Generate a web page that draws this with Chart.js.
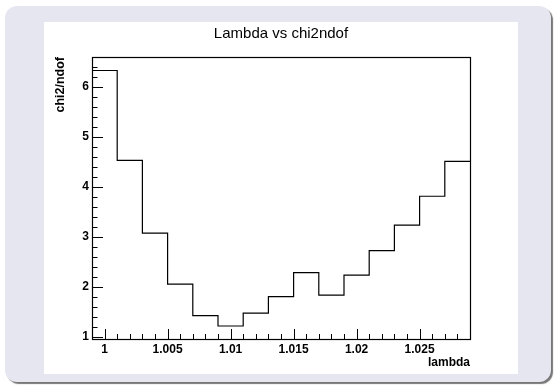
<!DOCTYPE html>
<html>
<head>
<meta charset="utf-8">
<script src="https://cdn.jsdelivr.net/npm/chart.js@4"></script>
<style>
    body { margin: 0; background: #ffffff; }
    #frame {
        position: absolute; left: 5px; top: 6px; width: 546px; height: 376px;
        background: #e6e6f0; border-radius: 12px;
        box-shadow: 2px 2px 1px #777777;
    }
    #pad {
        position: absolute; left: 39px; top: 16px; width: 474px; height: 352px;
        background: #ffffff;
    }
</style>
</head>
<body>
<div id="frame">
    <div id="pad"><canvas id="histChart" width="474" height="352"></canvas></div>
</div>
<script>
// Lower bin edges for lambda, plus the upper edge of the last bin
const lambdaEdges = [0.999, 1.001, 1.003, 1.005, 1.007, 1.009, 1.011, 1.013,
                     1.015, 1.017, 1.019, 1.021, 1.023, 1.025, 1.027, 1.029];
// chi2/ndof per bin
const chi2ndof = [6.33, 4.53, 3.07, 2.05, 1.42, 1.21, 1.47, 1.80,
                  2.28, 1.83, 2.23, 2.72, 3.23, 3.81, 4.51];
// Axis tick labels
const xTicks = [1, 1.005, 1.01, 1.015, 1.02, 1.025];
const yTicks = [1, 2, 3, 4, 5, 6];

// Histogram outline: one point per bin edge, the last one repeats the final bin
const histPoints = lambdaEdges.map((edge, i) => ({
    x: edge,
    y: chi2ndof[Math.min(i, chi2ndof.length - 1)]
}));

Chart.defaults.font.family = '"Liberation Sans", Arial, sans-serif';
Chart.defaults.color = '#000000';

// Draws the box around the plot area and inward pointing ticks
const frameTicks = {
    id: 'frameTicks',
    afterDraw(chart) {
        const ctx = chart.ctx;
        const area = chart.chartArea;
        const xs = chart.scales.x;
        const ys = chart.scales.y;
        ctx.save();
        ctx.strokeStyle = '#000000';
        ctx.lineWidth = 1;
        ctx.beginPath();
        // x axis: major every 0.005, minor every 0.001
        for (let k = 0; k <= 30; k++) {
            const v = 0.999 + k * 0.001;
            const px = Math.round(xs.getPixelForValue(v)) + 0.5;
            const major = xTicks.some(t => Math.abs(t - v) < 1e-6);
            ctx.moveTo(px, area.bottom);
            ctx.lineTo(px, area.bottom - (major ? 10 : 5));
        }
        // y axis: major every 1, minor every 0.2
        for (let k = 0; k <= 28; k++) {
            const v = 1 + k * 0.2;
            const py = Math.round(ys.getPixelForValue(v)) + 0.5;
            const major = yTicks.some(t => Math.abs(t - v) < 1e-6);
            ctx.moveTo(area.left, py);
            ctx.lineTo(area.left + (major ? 11 : 5.5), py);
        }
        ctx.stroke();
        ctx.lineWidth = 1.2;
        ctx.strokeRect(Math.round(area.left) + 0.5, Math.round(area.top) + 0.5,
                       Math.round(area.right - area.left), Math.round(area.bottom - area.top));
        ctx.restore();
    }
};

const ctx = document.getElementById('histChart').getContext('2d');
new Chart(ctx, {
    type: 'line',
    data: {
        datasets: [{
            data: histPoints,
            stepped: true,
            borderColor: '#000000',
            borderWidth: 1.2,
            pointRadius: 0,
            fill: false
        }]
    },
    options: {
        responsive: false,
        animation: false,
        devicePixelRatio: 1,
        layout: { padding: 0 },
        plugins: {
            legend: { display: false },
            tooltip: { enabled: false },
            title: {
                display: true,
                text: 'Lambda vs chi2ndof',
                font: { size: 15, weight: 'normal' },
                padding: { top: 3, bottom: 14 }
            }
        },
        scales: {
            x: {
                type: 'linear',
                min: 0.999,
                max: 1.029,
                grid: { display: false, drawTicks: false },
                border: { display: false },
                afterBuildTicks: scale => { scale.ticks = xTicks.map(v => ({ value: v })); },
                afterFit: scale => { scale.height = 35; },
                ticks: {
                    padding: 3,
                    maxRotation: 0,
                    font: { size: 12, weight: 'bold' },
                    callback: value => String(value)
                },
                title: {
                    display: true,
                    text: 'lambda',
                    align: 'end',
                    font: { size: 12, weight: 'bold' },
                    padding: { top: 0, bottom: 4 }
                }
            },
            y: {
                type: 'linear',
                min: 0.95,
                max: 6.6,
                grid: { display: false, drawTicks: false },
                border: { display: false },
                afterBuildTicks: scale => { scale.ticks = yTicks.map(v => ({ value: v })); },
                afterFit: scale => { scale.width = 48; },
                ticks: {
                    padding: 3,
                    font: { size: 12, weight: 'bold' },
                    callback: value => String(value)
                },
                title: {
                    display: true,
                    text: 'chi2/ndof',
                    align: 'end',
                    font: { size: 12.5, weight: 'bold' },
                    padding: { top: 9, bottom: 0 }
                }
            },
            // empty margin on the right so the title stays centred on the pad
            yRight: {
                type: 'linear',
                position: 'right',
                min: 0,
                max: 1,
                grid: { display: false, drawTicks: false },
                border: { display: false },
                ticks: { display: false },
                afterFit: scale => { scale.width = 48; }
            }
        }
    },
    plugins: [frameTicks]
});
</script>
</body>
</html>
